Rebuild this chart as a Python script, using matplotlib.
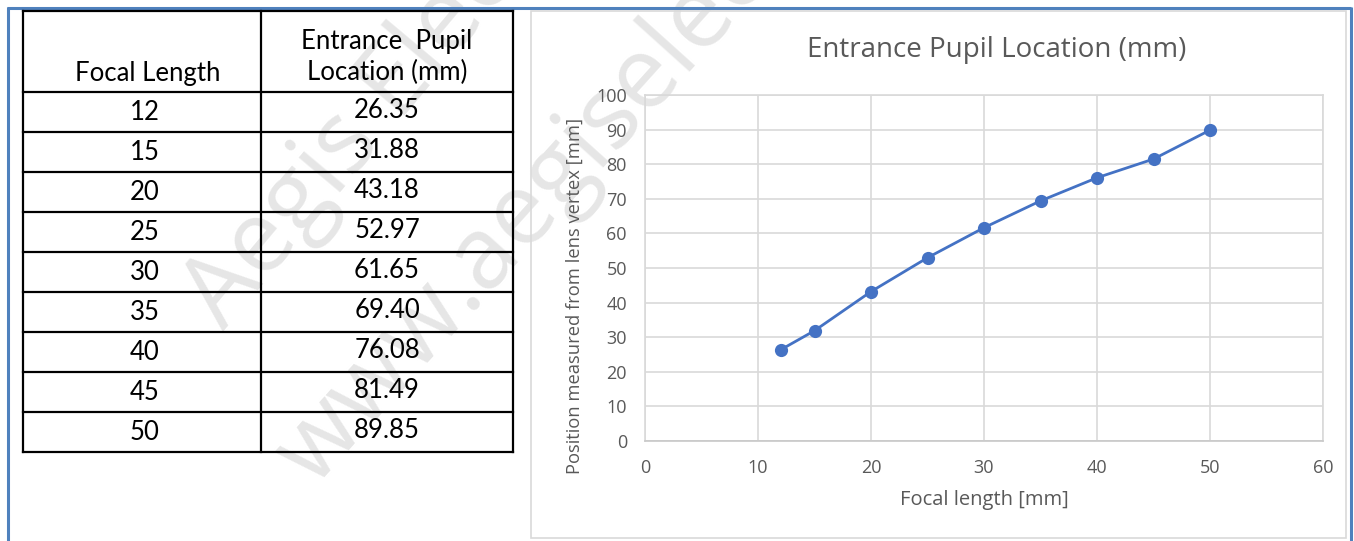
import matplotlib
matplotlib.use("Agg")
import matplotlib.pyplot as plt
from matplotlib.patches import Rectangle

# ---- data ----
focal_length = [12, 15, 20, 25, 30, 35, 40, 45, 50]
pupil_location = [26.35, 31.88, 43.18, 52.97, 61.65, 69.40, 76.08, 81.49, 89.85]
col_headers = ["Focal Length", "Entrance  Pupil\nLocation (mm)"]
x_ticks = [0, 10, 20, 30, 40, 50, 60]
y_ticks = [0, 10, 20, 30, 40, 50, 60, 70, 80, 90, 100]
chart_title = "Entrance Pupil Location (mm)"
x_label = "Focal length [mm]"
y_label = "Position measured from lens vertex [mm]"
watermark = ["Aegis Electronic", "www.aegiselectronic.com"]

W, H = 1354, 541
fig = plt.figure(figsize=(W / 100, H / 100), dpi=100)
fig.patch.set_facecolor("white")

# background / page axes in pixel coordinates
bg = fig.add_axes([0, 0, 1, 1], zorder=0)
bg.set_xlim(0, W)
bg.set_ylim(H, 0)
bg.axis("off")

# watermark
wm_col = "#e6e6e6"
bg.text(224, 332, watermark[0], rotation=50, fontsize=72, color=wm_col,
        family="Open Sans", ha="left", va="baseline",
        rotation_mode="anchor", zorder=0)
bg.text(314, 488, watermark[1], rotation=48, fontsize=72, color=wm_col,
        family="Open Sans", ha="left", va="baseline",
        rotation_mode="anchor", zorder=0)

# page blue frame
blue = "#4f81bd"
bg.plot([7, 1351], [7.5, 7.5], color=blue, lw=2.2, zorder=1, solid_capstyle="butt")
bg.plot([7.5, 7.5], [7, H], color=blue, lw=2.2, zorder=1, solid_capstyle="butt")
bg.plot([1351, 1351], [7, H], color=blue, lw=2.2, zorder=1, solid_capstyle="butt")

# chart panel border
bg.add_patch(Rectangle((531, 11), 1346 - 531, 538 - 11, fill=False,
                       edgecolor="#d9d9d9", lw=1.2, zorder=1))

# table
tl, tm, tr = 23, 261, 513
ttop, thead, rowh = 11, 91.5, 40
nrows = len(focal_length)
tbot = thead + rowh * nrows
lw_t = 1.6
bg.plot([tl, tr], [ttop, ttop], color="black", lw=lw_t, zorder=2)
for i in range(nrows + 1):
    y = thead + rowh * i
    bg.plot([tl, tr], [y, y], color="black", lw=lw_t, zorder=2)
for x in (tl, tm, tr):
    bg.plot([x, x], [ttop, tbot], color="black", lw=lw_t, zorder=2)

tfont = dict(family="Lato", fontsize=18.5, color="black", zorder=3)
bg.text((tl + tm) / 2 + 6, thead - 6, col_headers[0], ha="center", va="bottom", **tfont)
bg.text((tm + tr) / 2, thead - 6, col_headers[1], ha="center", va="bottom",
        linespacing=1.3, **tfont)
for i, (f, p) in enumerate(zip(focal_length, pupil_location)):
    yc = thead + rowh * i + rowh / 2
    bg.text((tl + tm) / 2 + 3, yc + 1, str(f), ha="center", va="center", **tfont)
    bg.text((tm + tr) / 2, yc - 1, f"{p:.2f}", ha="center", va="center", **tfont)

# chart axes
gray_txt = "#595959"
grid_col = "#d9d9d9"
pl, pr, pt, pb = 645, 1323, 95, 441
ax = fig.add_axes([pl / W, 1 - pb / H, (pr - pl) / W, (pb - pt) / H], zorder=1)
ax.set_facecolor("none")
ax.plot(focal_length, pupil_location, color="#4472c4", lw=2.0, marker="o",
        markersize=9.5, markeredgewidth=0, zorder=3, clip_on=False)
ax.set_xlim(0, 60)
ax.set_ylim(0, 100)
ax.set_xticks(x_ticks)
ax.set_yticks(y_ticks)
ax.grid(True, color=grid_col, lw=1.2)
ax.set_axisbelow(True)
for s in ax.spines.values():
    s.set_color(grid_col)
    s.set_linewidth(1.2)
ax.spines["bottom"].set_color("#c8c8c8")
ax.tick_params(length=0, pad=13, labelcolor=gray_txt, labelsize=13)
for lab in ax.get_xticklabels() + ax.get_yticklabels():
    lab.set_family("Open Sans")

ax.set_xlabel(x_label, family="Open Sans", fontsize=14.5, color=gray_txt)
ax.xaxis.set_label_coords(0.5, (pb - 500) / (pb - pt))
ax.xaxis.label.set_va("center")
ax.set_ylabel(y_label, family="Open Sans", fontsize=13.2, color=gray_txt)
ax.yaxis.set_label_coords((575 - pl) / (pr - pl), (pb - 296) / (pb - pt))
ax.yaxis.label.set_va("center")

bg.text(997, 50, chart_title, ha="center", va="center", family="Open Sans",
        fontsize=20, color=gray_txt, zorder=3)

fig.savefig("out.png", dpi=100, facecolor="white")
